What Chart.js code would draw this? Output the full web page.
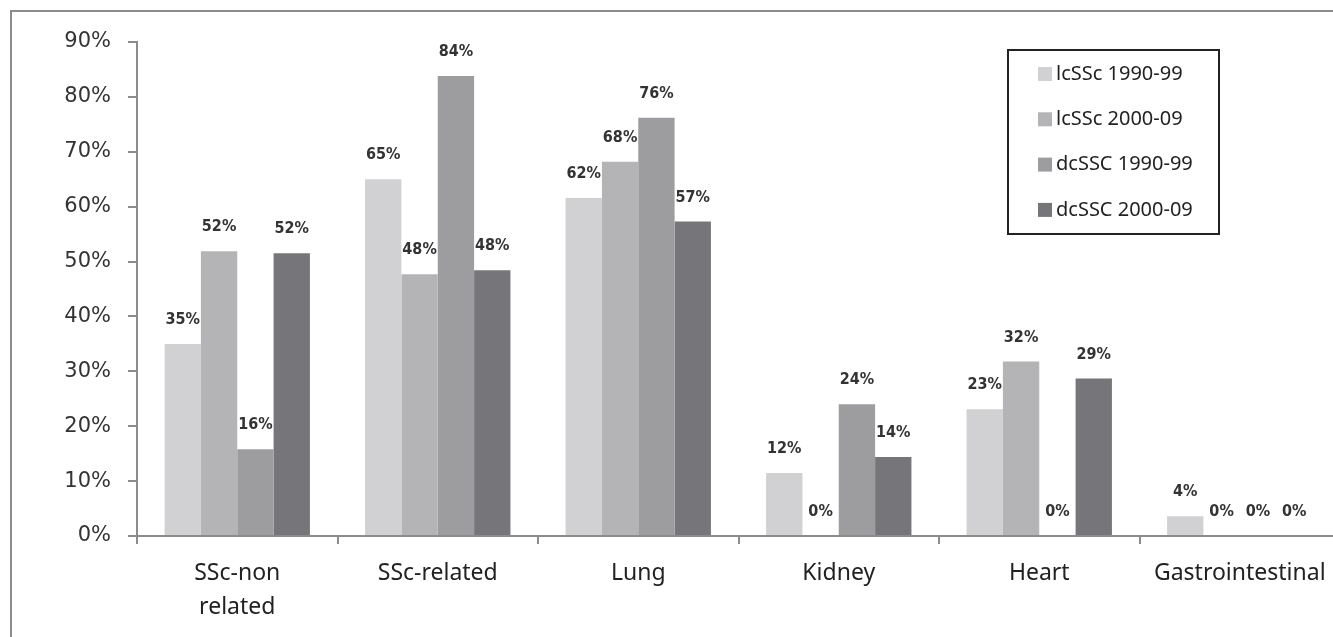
<!DOCTYPE html>
<html>
<head>
<meta charset="utf-8">
<script src="https://cdn.jsdelivr.net/npm/chart.js@4"></script>
<style>
  html, body { margin: 0; padding: 0; background: #fff; overflow: hidden; }
  #wrap { position: relative; width: 1333px; height: 637px; overflow: hidden; }
  #frame { position: absolute; left: 10px; top: 10px; width: 1400px; height: 700px; border: 2px solid #8c8c8c; }
  canvas { position: absolute; left: 0; top: 0; }
</style>
</head>
<body>
<div id="wrap">
  <div id="frame"></div>
  <canvas id="chart" width="1345" height="637"></canvas>
</div>
<script>
// categories and series (percent)
const categories = [['SSc-non', 'related'], 'SSc-related', 'Lung', 'Kidney', 'Heart', 'Gastrointestinal'];
const lcSSc9099 = [35, 65, 61.6, 11.5, 23.1, 3.6];
const lcSSc0009 = [51.9, 47.7, 68.2, 0, 31.8, 0];
const dcSSC9099 = [15.8, 83.8, 76.2, 24, 0, 0];
const dcSSC0009 = [51.5, 48.4, 57.3, 14.4, 28.7, 0];
const seriesNames = ['lcSSc 1990-99', 'lcSSc 2000-09', 'dcSSC 1990-99', 'dcSSC 2000-09'];
const seriesColors = ['#d1d1d3', '#b4b4b6', '#9d9d9f', '#76767a'];
const yTicks = [0, 10, 20, 30, 40, 50, 60, 70, 80, 90];

// value labels above every bar
const valueLabels = {
  id: 'valueLabels',
  afterDatasetsDraw(chart) {
    const ctx = chart.ctx;
    ctx.save();
    ctx.font = 'bold 16px "Liberation Sans Narrow", "DejaVu Sans Condensed", sans-serif';
    ctx.fillStyle = '#333';
    ctx.textAlign = 'center';
    ctx.textBaseline = 'middle';
    chart.data.datasets.forEach((ds, i) => {
      chart.getDatasetMeta(i).data.forEach((bar, j) => {
        ctx.fillText(Math.round(ds.data[j]) + '%', bar.x, bar.y - 24);
      });
    });
    ctx.restore();
  }
};

// boxed legend in the top right corner
const boxLegend = {
  id: 'boxLegend',
  afterDraw(chart) {
    const ctx = chart.ctx;
    ctx.save();
    ctx.lineWidth = 2;
    ctx.strokeStyle = '#222';
    ctx.strokeRect(1008, 50, 211, 184);
    ctx.font = '20px "Noto Sans", sans-serif';
    ctx.textBaseline = 'middle';
    ctx.textAlign = 'left';
    chart.data.datasets.forEach((ds, i) => {
      const y = 74 + i * 45.3;
      ctx.fillStyle = ds.backgroundColor;
      ctx.fillRect(1038, y - 7, 14, 14);
      ctx.fillStyle = '#222';
      ctx.fillText(ds.label, 1056, y);
    });
    ctx.restore();
  }
};

const datasets = [lcSSc9099, lcSSc0009, dcSSC9099, dcSSC0009].map((vals, i) => ({
  label: seriesNames[i],
  data: vals,
  backgroundColor: seriesColors[i],
  borderWidth: 0,
  barPercentage: 1,
  categoryPercentage: 0.725
}));

new Chart(document.getElementById('chart').getContext('2d'), {
  type: 'bar',
  data: { labels: categories, datasets: datasets },
  options: {
    responsive: false,
    animation: false,
    layout: { padding: { top: 42, right: 5, left: 0, bottom: 0 } },
    plugins: { legend: { display: false }, tooltip: { enabled: false } },
    scales: {
      x: {
        afterFit: (s) => { s.height = 101; },
        grid: { offset: true, drawOnChartArea: false, tickLength: 8, color: '#8c8c8c', lineWidth: 2 },
        border: { color: '#8c8c8c', width: 2 },
        ticks: {
          padding: 13,
          color: '#222',
          font: { family: '"Noto Sans", sans-serif', size: 23, lineHeight: 1.45 }
        }
      },
      y: {
        min: 0,
        max: 90,
        afterFit: (s) => { s.width = 137; },
        afterBuildTicks: (s) => { s.ticks = yTicks.map(v => ({ value: v })); },
        grid: { drawOnChartArea: false, tickLength: 9, color: '#8c8c8c', lineWidth: 2 },
        border: { color: '#8c8c8c', width: 2 },
        ticks: {
          padding: 17,
          color: '#333',
          font: { family: '"DejaVu Sans", sans-serif', size: 21 },
          callback: (v) => v + '%'
        }
      }
    }
  },
  plugins: [valueLabels, boxLegend]
});
</script>
</body>
</html>
